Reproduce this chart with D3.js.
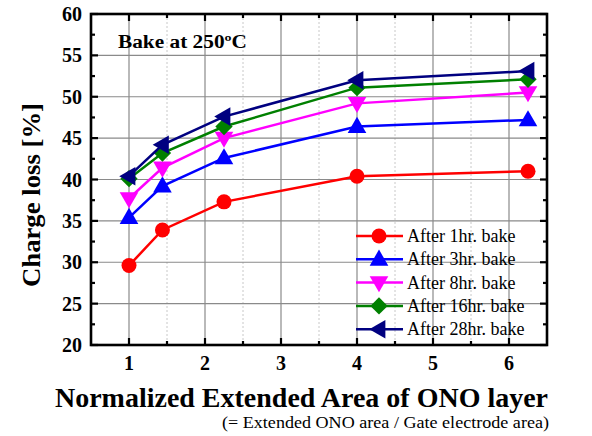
<!DOCTYPE html>
<html><head><meta charset="utf-8">
<script src="https://cdn.jsdelivr.net/npm/d3@7"></script>
<style>
html,body{margin:0;padding:0;background:#fff;}
svg text{font-family:"Liberation Serif";}
</style></head>
<body><svg id="c" width="592" height="436"></svg>
<script>
const xValues = [1, 1.44, 2.25, 4, 6.25];
const seriesNames = ["After 1hr. bake","After 3hr. bake","After 8hr. bake","After 16hr. bake","After 28hr. bake"];
const bake1  = [29.6, 33.9, 37.3, 40.4, 41.0];
const bake3  = [35.4, 39.2, 42.6, 46.4, 47.2];
const bake8  = [37.7, 41.4, 45.0, 49.2, 50.5];
const bake16 = [40.1, 43.2, 46.4, 51.1, 52.1];
const bake28 = [40.4, 44.2, 47.6, 52.0, 53.1];
const xTicks = [1,2,3,4,5,6];
const yTicks = [20,25,30,35,40,45,50,55,60];
const colors = ["#ff0000","#0000ff","#ff00ff","#008000","#000080"];
const markers = ["circle","triUp","triDown","diamond","triLeft"];

const series = [bake1,bake3,bake8,bake16,bake28];
const FONT = "Liberation Serif";
const svg = d3.select("#c");
const L=91,R=547,T=14,B=345;
const x = d3.scaleLinear().domain([0.5,6.5]).range([L,R]);
const y = d3.scaleLinear().domain([20,60]).range([B,T]);

// grid
const g = svg.append("g");
const xMinor = d3.range(1.5,6.5,1);
const yMinor = d3.range(22.5,60,5);
g.selectAll(".gxm").data(xMinor).join("line").attr("x1",d=>x(d)).attr("x2",d=>x(d)).attr("y1",T).attr("y2",B)
 .attr("stroke","#c8c8c8").attr("stroke-width",1).attr("stroke-dasharray","2,2");
g.selectAll(".gx").data(xTicks).join("line").attr("x1",d=>x(d)).attr("x2",d=>x(d)).attr("y1",T).attr("y2",B)
 .attr("stroke","#8a8a8a").attr("stroke-width",1.2);
g.selectAll(".gy").data(yTicks.slice(1,-1)).join("line").attr("y1",d=>y(d)).attr("y2",d=>y(d)).attr("x1",L).attr("x2",R)
 .attr("stroke","#8a8a8a").attr("stroke-width",1.2);

// axes with inward ticks
const ax = svg.append("g");
function tickLines(vals, len, orient){
  vals.forEach(v=>{
    if(orient==="b") ax.append("line").attr("x1",x(v)).attr("x2",x(v)).attr("y1",B).attr("y2",B-len);
    if(orient==="t") ax.append("line").attr("x1",x(v)).attr("x2",x(v)).attr("y1",T).attr("y2",T+len);
    if(orient==="l") ax.append("line").attr("y1",y(v)).attr("y2",y(v)).attr("x1",L).attr("x2",L+len);
    if(orient==="r") ax.append("line").attr("y1",y(v)).attr("y2",y(v)).attr("x1",R).attr("x2",R-len);
  });
}
tickLines(xTicks,7,"b");tickLines(xTicks,7,"t");tickLines(xMinor,4,"b");tickLines(xMinor,4,"t");
tickLines(yTicks,7,"l");tickLines(yTicks,7,"r");tickLines(yMinor,4,"l");tickLines(yMinor,4,"r");
ax.selectAll("line").attr("stroke","#000").attr("stroke-width",2.2);
ax.append("rect").attr("x",L).attr("y",T).attr("width",R-L).attr("height",B-T)
  .attr("fill","none").attr("stroke","#000").attr("stroke-width",2.6);

// tick labels
svg.selectAll(".xl").data(xTicks).join("text").attr("x",d=>x(d)).attr("y",370).style("font-family",FONT)
  .attr("text-anchor","middle").attr("font-weight","bold").attr("font-size",20).text(d=>d);
svg.selectAll(".yl").data(yTicks).join("text").attr("x",82).attr("y",d=>y(d)+7).style("font-family",FONT)
  .attr("text-anchor","end").attr("font-weight","bold").attr("font-size",20).text(d=>d);

// titles
svg.append("text").attr("transform","translate(40,195) rotate(-90)").attr("text-anchor","middle").style("font-family",FONT)
  .attr("font-weight","bold").attr("font-size",26).attr("textLength",184).attr("lengthAdjust","spacingAndGlyphs").text("Charge loss [%]");
svg.append("text").attr("x",55).attr("y",407).attr("font-weight","bold").attr("font-size",28).style("font-family",FONT)
  .attr("textLength",493).attr("lengthAdjust","spacingAndGlyphs").text("Normalized Extended Area of ONO layer");
svg.append("text").attr("x",222).attr("y",428).attr("font-size",16.5).style("font-family",FONT)
  .attr("textLength",327).attr("lengthAdjust","spacingAndGlyphs").text("(= Extended ONO area / Gate electrode area)");
svg.append("text").attr("x",118).attr("y",48).attr("font-weight","bold").attr("font-size",18.5).style("font-family",FONT)
  .attr("textLength",129).attr("lengthAdjust","spacingAndGlyphs").text("Bake at 250ºC");

// markers
function marker(sel, type){
  const tri = d3.symbol().type(d3.symbolTriangle).size(150);
  if(type==="circle") return sel.append("circle").attr("r",7.5);
  if(type==="triUp") return sel.append("path").attr("d",tri()).attr("transform","translate(0,1)");
  if(type==="triDown") return sel.append("path").attr("d",tri()).attr("transform","translate(0,-1) rotate(180)");
  if(type==="triLeft") return sel.append("path").attr("d",tri()).attr("transform","translate(1,0) rotate(-90)");
  if(type==="diamond") return sel.append("path").attr("d",d3.symbol().type(d3.symbolSquare).size(150)()).attr("transform","rotate(45)");
}
const line = d3.line().x((d,i)=>x(xValues[i])).y(d=>y(d));
series.forEach((s,k)=>{
  const sg = svg.append("g");
  sg.append("path").attr("d",line(s)).attr("fill","none").attr("stroke",colors[k]).attr("stroke-width",2.5);
  s.forEach((v,i)=>{
    const mg = sg.append("g").attr("transform",`translate(${x(xValues[i])},${y(v)})`).attr("fill",colors[k]);
    marker(mg,markers[k]);
  });
});

// legend
const lg = svg.append("g");
seriesNames.forEach((n,k)=>{
  const yy = 236 + k*23.3;
  lg.append("line").attr("x1",356).attr("x2",403).attr("y1",yy).attr("y2",yy).attr("stroke",colors[k]).attr("stroke-width",2.5);
  const mg = lg.append("g").attr("transform",`translate(379,${yy})`).attr("fill",colors[k]);
  marker(mg,markers[k]);
  lg.append("text").attr("x",407).attr("y",yy+6).attr("font-size",18).style("font-family",FONT).text(n);
});
</script></body></html>
